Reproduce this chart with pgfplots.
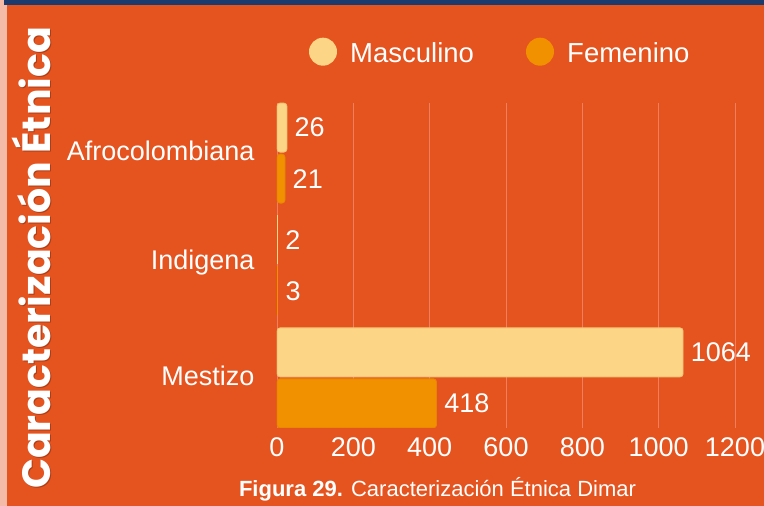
\documentclass[border=0pt]{standalone}
\usepackage{pgfplots}
\pgfplotsset{compat=1.18}
\usepackage{fontspec}
\setmainfont{Liberation Sans}
\newfontfamily\poppins{Poppins}
\definecolor{bg}{HTML}{E5531F}
\definecolor{navy}{HTML}{1B3A6E}
\definecolor{pinkstrip}{HTML}{F4BBA8}
\definecolor{masc}{HTML}{FCD686}
\definecolor{mascedge}{HTML}{F4C273}
\definecolor{fem}{HTML}{F29100}
\definecolor{femedge}{HTML}{E88505}
\definecolor{gridc}{HTML}{EE8060}
\begin{document}
\begin{tikzpicture}[x=1pt,y=1pt]
\useasboundingbox (0,0) rectangle (764,506);
\fill[bg] (0,0) rectangle (764,506);
\fill[pinkstrip] (0,0) rectangle (6.5,506);
\fill[navy] (4,501) rectangle (764,506);
\begin{axis}[
  at={(277pt,78pt)}, anchor=south west,
  scale only axis, width=458pt, height=325pt,
  xbar, bar width=49pt,
  xmin=0, xmax=1200, ymin=-0.446, ymax=2.446,
  axis line style={draw=none,-},
  xtick={0,200,...,1200},
  ytick={0,1,2}, yticklabels={Mestizo,Indigena,Afrocolombiana},
  major tick length=0pt,
  /pgf/number format/.cd, 1000 sep={}, assume math mode=true, /pgfplots/.cd,
  xmajorgrids, grid style={gridc, line width=0.8pt},
  ticklabel style={font=\fontsize{27}{30}\selectfont, text=white},
  xticklabel style={yshift=-6pt},
  yticklabel style={xshift=-19pt, yshift=2.5pt},
  nodes near coords,
  point meta=x,
  nodes near coords style={font=\fontsize{27}{30}\selectfont, text=white, anchor=west, xshift=4pt},
]
\addplot[fill=masc, draw=mascedge, line width=0.8pt, bar shift=25.5pt, rounded corners=3pt] coordinates {(26,2) (1064,0)};
\addplot[fill=masc, draw=none, bar shift=25.5pt] coordinates {(2,1)};
\addplot[fill=fem, draw=femedge, line width=0.8pt, bar shift=-25.5pt, rounded corners=3pt] coordinates {(21,2) (418,0)};
\addplot[fill=fem, draw=none, bar shift=-25.5pt] coordinates {(3,1)};
\end{axis}
% legend
\fill[masc] (323,454.3) circle (14);
\node[anchor=base west, inner sep=0pt, text=white, font=\fontsize{27.5}{30}\selectfont] at (350,443.7) {Masculino};
\fill[fem] (540,454.3) circle (14);
\node[anchor=base west, inner sep=0pt, text=white, font=\fontsize{27.5}{30}\selectfont] at (567,443.7) {Femenino};
% vertical title
\node[rotate=90, anchor=base, inner sep=0pt, text=black, opacity=0.25, font=\poppins\bfseries\fontsize{39.5}{46}\selectfont] at (51.5,247) {Caracterización Étnica};
\node[rotate=90, anchor=base, inner sep=0pt, text=white, font=\poppins\bfseries\fontsize{39.5}{46}\selectfont] at (50,248) {Caracterización Étnica};
% caption
\node[anchor=base, inner sep=0pt, text=white, font=\fontsize{22}{26}\selectfont] at (437.5,9) {\textbf{Figura 29.} Caracterización Étnica Dimar};
\end{tikzpicture}
\end{document}
